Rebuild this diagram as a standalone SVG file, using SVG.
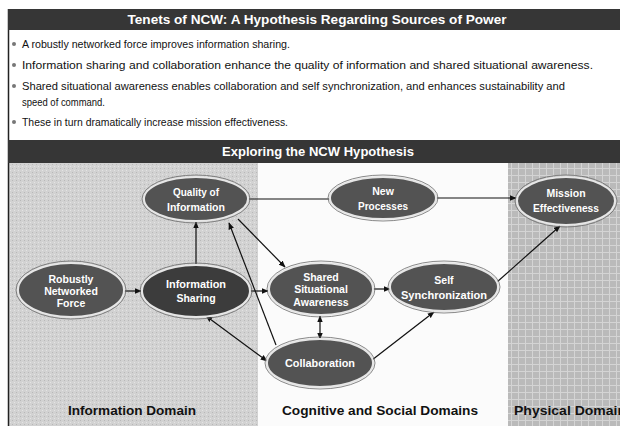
<svg xmlns="http://www.w3.org/2000/svg" width="620" height="426" viewBox="0 0 620 426">
  <defs>
    <style>
      .bar { fill: #363636; }
      .bartext { font-family: "Liberation Sans", Arial, sans-serif; font-weight: bold; fill: #ffffff; }
      .bullet { font-family: "Liberation Sans", Arial, sans-serif; font-size: 10.5px; fill: #111111; }
      .dot { fill: #777777; }
      .domain { font-family: "Liberation Sans", Arial, sans-serif; font-weight: bold; font-size: 13px; fill: #111111; }
      .node-fill { fill: #535353; stroke: #e6e6e6; stroke-width: 2; }
      .node-dark { fill: #3c3c3c; }
      .node-rim { fill: none; stroke: #6a6a6a; stroke-width: 0.8; }
      .label { font-family: "Liberation Sans", Arial, sans-serif; font-weight: bold; font-size: 10.5px; fill: #ffffff; text-anchor: middle; }
      .edge { fill: none; stroke: #111111; stroke-width: 1.2; }
    </style>
    <marker id="head" viewBox="0 0 10 10" refX="9" refY="5" markerWidth="7" markerHeight="7" orient="auto-start-reverse" markerUnits="userSpaceOnUse">
      <path d="M0,1 L10,5 L0,9 Z" fill="#111111"/>
    </marker>
    <pattern id="grid" width="7" height="7" patternUnits="userSpaceOnUse">
      <rect width="7" height="7" fill="#bababa"/>
      <path d="M0,0.5 H7 M0.5,0 V7" stroke="#d4d4d4" stroke-width="1"/>
    </pattern>
    <pattern id="speckle" width="4" height="4" patternUnits="userSpaceOnUse">
      <rect width="4" height="4" fill="#d2d2d2"/>
      <rect x="0" y="0" width="1" height="1" fill="#b8b8b8"/>
      <rect x="2" y="2" width="1" height="1" fill="#e4e4e4"/>
    </pattern>
  </defs>

  <!-- page background -->
  <rect x="0" y="0" width="620" height="426" fill="#ffffff"/>

  <!-- domain backgrounds -->
  <rect x="9" y="163" width="249" height="263" fill="url(#speckle)"/>
  <rect x="258" y="163" width="250" height="263" fill="#fbfbfb"/>
  <rect x="508" y="163" width="112" height="263" fill="url(#grid)"/>

  <!-- frame -->
  <line x1="8.5" y1="9" x2="8.5" y2="426" stroke="#222222" stroke-width="1.5"/>

  <!-- title bar -->
  <rect class="bar" x="8" y="9" width="612" height="21"/>
  <text class="bartext" x="317" y="24" font-size="13" text-anchor="middle" textLength="379" lengthAdjust="spacingAndGlyphs">Tenets of NCW: A Hypothesis Regarding Sources of Power</text>

  <!-- tenets -->
  <g id="tenets">
    <circle class="dot" cx="14" cy="44" r="2"/>
    <text class="bullet" x="22" y="48" textLength="268" lengthAdjust="spacingAndGlyphs">A robustly networked force improves information sharing.</text>
    <circle class="dot" cx="14" cy="65" r="2"/>
    <text class="bullet" x="22" y="69" textLength="571" lengthAdjust="spacingAndGlyphs">Information sharing and collaboration enhance the quality of information and shared situational awareness.</text>
    <circle class="dot" cx="14" cy="86" r="2"/>
    <text class="bullet" x="22" y="90" textLength="543" lengthAdjust="spacingAndGlyphs">Shared situational awareness enables collaboration and self synchronization, and enhances sustainability and</text>
    <text class="bullet" x="22" y="105.5" textLength="83" lengthAdjust="spacingAndGlyphs">speed of command.</text>
    <circle class="dot" cx="14" cy="122" r="2"/>
    <text class="bullet" x="22" y="126" textLength="266" lengthAdjust="spacingAndGlyphs">These in turn dramatically increase mission effectiveness.</text>
  </g>

  <!-- hypothesis bar -->
  <rect class="bar" x="8" y="140" width="612" height="23"/>
  <text class="bartext" x="318" y="156" font-size="13" text-anchor="middle" textLength="192" lengthAdjust="spacingAndGlyphs">Exploring the NCW Hypothesis</text>

  <!-- connectors -->
  <g id="connectors">
    <path class="edge" d="M124,291 L141,291" marker-end="url(#head)"/>
    <path class="edge" d="M196,265 L196,222" marker-end="url(#head)"/>
    <path class="edge" d="M248,199 L330,199"/>
    <path class="edge" d="M436,198 L516,198" marker-end="url(#head)"/>
    <path class="edge" d="M238,219 L285,267" marker-end="url(#head)"/>
    <path class="edge" d="M276,345 L229,223" marker-end="url(#head)"/>
    <path class="edge" d="M206,316 L267,361" marker-start="url(#head)" marker-end="url(#head)"/>
    <path class="edge" d="M250,291 L268,291" marker-end="url(#head)"/>
    <path class="edge" d="M373,289 L390,289" marker-end="url(#head)"/>
    <path class="edge" d="M320,316 L320,339" marker-start="url(#head)" marker-end="url(#head)"/>
    <path class="edge" d="M372,360 L434,312" marker-end="url(#head)"/>
    <path class="edge" d="M497,282 L560,226" marker-end="url(#head)"/>
  </g>

  <!-- nodes -->
  <g id="quality">
    <ellipse class="node-fill" cx="196" cy="199" rx="52" ry="22"/>
    <ellipse class="node-rim" cx="196" cy="199" rx="54" ry="24"/>
    <text class="label" x="196" y="196" textLength="46" lengthAdjust="spacingAndGlyphs">Quality of</text>
    <text class="label" x="196" y="211" textLength="58" lengthAdjust="spacingAndGlyphs">Information</text>
  </g>
  <g id="new-processes">
    <ellipse class="node-fill" cx="383" cy="198" rx="53" ry="21"/>
    <ellipse class="node-rim" cx="383" cy="198" rx="55" ry="23"/>
    <text class="label" x="383" y="195">New</text>
    <text class="label" x="383" y="210" textLength="50" lengthAdjust="spacingAndGlyphs">Processes</text>
  </g>
  <g id="mission">
    <ellipse class="node-fill" cx="566" cy="201" rx="49" ry="24"/>
    <ellipse class="node-rim" cx="566" cy="201" rx="51" ry="26"/>
    <text class="label" x="566" y="197">Mission</text>
    <text class="label" x="566" y="212" textLength="66" lengthAdjust="spacingAndGlyphs">Effectiveness</text>
  </g>
  <g id="robustly">
    <ellipse class="node-fill" cx="71" cy="290" rx="53" ry="27"/>
    <ellipse class="node-rim" cx="71" cy="290" rx="55" ry="29"/>
    <text class="label" x="71" y="283">Robustly</text>
    <text class="label" x="71" y="295">Networked</text>
    <text class="label" x="71" y="307">Force</text>
  </g>
  <g id="info-sharing">
    <ellipse class="node-fill node-dark" cx="196" cy="291" rx="54" ry="26"/>
    <ellipse class="node-rim" cx="196" cy="291" rx="56" ry="28"/>
    <text class="label" x="196" y="288" textLength="60" lengthAdjust="spacingAndGlyphs">Information</text>
    <text class="label" x="196" y="302">Sharing</text>
  </g>
  <g id="ssa">
    <ellipse class="node-fill" cx="321" cy="289" rx="52" ry="26"/>
    <ellipse class="node-rim" cx="321" cy="289" rx="54" ry="28"/>
    <text class="label" x="321" y="281">Shared</text>
    <text class="label" x="321" y="293">Situational</text>
    <text class="label" x="321" y="306">Awareness</text>
  </g>
  <g id="self-sync">
    <ellipse class="node-fill" cx="444" cy="287" rx="54" ry="24"/>
    <ellipse class="node-rim" cx="444" cy="287" rx="56" ry="26"/>
    <text class="label" x="444" y="284">Self</text>
    <text class="label" x="444" y="299" textLength="86" lengthAdjust="spacingAndGlyphs">Synchronization</text>
  </g>
  <g id="collaboration">
    <ellipse class="node-fill" cx="320" cy="363" rx="53" ry="24"/>
    <ellipse class="node-rim" cx="320" cy="363" rx="55" ry="26"/>
    <text class="label" x="320" y="367" textLength="70" lengthAdjust="spacingAndGlyphs">Collaboration</text>
  </g>

  <!-- domain captions -->
  <text class="domain" x="132" y="415" text-anchor="middle" textLength="128" lengthAdjust="spacingAndGlyphs">Information Domain</text>
  <text class="domain" x="380" y="415" text-anchor="middle" textLength="196" lengthAdjust="spacingAndGlyphs">Cognitive and Social Domains</text>
  <text class="domain" x="514" y="415" textLength="112" lengthAdjust="spacingAndGlyphs">Physical Domain</text>
</svg>
